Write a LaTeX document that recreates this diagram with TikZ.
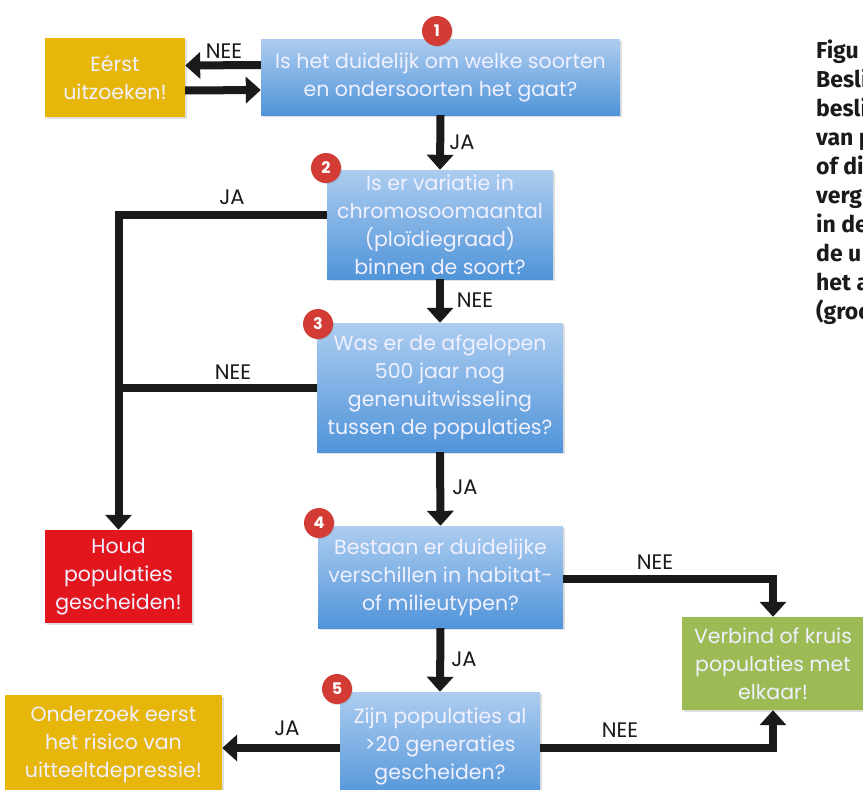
\documentclass[tikz,border=0pt]{standalone}
\usepackage{fontspec}
\setmainfont{Poppins}
\newfontfamily\capfont{Fira Sans}
\usetikzlibrary{arrows.meta,shadows,calc}
\definecolor{bluetop}{HTML}{ADCDF0}
\definecolor{bluebot}{HTML}{5094D9}
\definecolor{yel}{HTML}{E6B60A}
\definecolor{redb}{HTML}{E2161C}
\definecolor{grn}{HTML}{9DBB55}
\definecolor{circ}{HTML}{D33C34}
\definecolor{ink}{HTML}{1A1A1A}
\begin{document}
\begin{tikzpicture}[x=1pt,y=-1pt,
  box/.style={rectangle, inner sep=0pt, align=center, text=white!94!blue,
    font=\fontsize{20.5}{28}\selectfont,
    drop shadow={opacity=0.25,shadow xshift=1.5pt,shadow yshift=-1.5pt}},
  bluebox/.style={box, top color=bluetop, bottom color=bluebot},
  yelbox/.style={box, fill=yel},
  redbox/.style={box, fill=redb},
  grnbox/.style={box, fill=grn},
  num/.style={circle, fill=circ, minimum size=30pt, inner sep=0pt, text=white,
    font=\fontsize{16}{16}\selectfont\bfseries,
    drop shadow={opacity=0.25,shadow xshift=1pt,shadow yshift=-1pt}},
  lbl/.style={font=\fontsize{21}{21}\selectfont, text=ink, inner sep=0pt},
  conn/.style={line width=8pt, draw=ink, -{Triangle[length=15pt,width=26pt]}},
  plain/.style={line width=8pt, draw=ink},
  captxt/.style={font=\capfont\bfseries\fontsize{23}{29}\selectfont, text=ink, inner sep=0pt, anchor=base west}
]
\useasboundingbox (0,0) rectangle (863,790);
\clip (0,0) rectangle (863,790);

% boxes
\node[bluebox, minimum width=359pt, minimum height=76pt] (b1) at (440.5,77) {Is het duidelijk om welke soorten\\en ondersoorten het gaat?};
\node[yelbox, minimum width=140pt, minimum height=79pt] (y1) at (115,77.5) {Eérst\\uitzoeken!};
\node[bluebox, minimum width=226pt, minimum height=109pt] (b2) at (440,224.5) {Is er variatie in\\chromosoomaantal\\(ploïdiegraad)\\binnen de soort?};
\node[bluebox, minimum width=246pt, minimum height=129pt] (b3) at (440,387.5) {Was er de afgelopen\\500 jaar nog\\genenuitwisseling\\tussen de populaties?};
\node[bluebox, minimum width=245pt, minimum height=102pt] (b4) at (440.5,577) {Bestaan er duidelijke\\verschillen in habitat-\\of milieutypen?};
\node[bluebox, minimum width=200pt, minimum height=108pt] (b5) at (440,746) {Zijn populaties al\\>20 generaties\\gescheiden?};
\node[redbox, minimum width=147pt, minimum height=93pt] (r1) at (118.5,576.5) {Houd\\populaties\\gescheiden!};
\node[grnbox, minimum width=182pt, minimum height=93pt] (g1) at (773,663.5) {Verbind of kruis\\populaties met\\elkaar!};
\node[yelbox, minimum width=217pt, minimum height=100pt] (y2) at (113.5,745) {Onderzoek eerst\\het risico van\\uitteeltdepressie!};

% connectors
\draw[conn] ([yshift=12pt]b1.west) -- ([yshift=12pt]y1.east);
\draw[conn] ([yshift=-13pt]y1.east) -- ([yshift=-13pt]b1.west);
\draw[conn] (b1.south) -- (b2.north);
\draw[conn] ([yshift=9.5pt]b2.west) -| (r1.north);
\draw[plain] (b3.west) -- (b3.west -| r1.north);
\draw[conn] (b2.south) -- (b3.north);
\draw[conn] (b3.south) -- (b4.north);
\draw[conn] ([yshift=-2pt]b4.east) -| (g1.north);
\draw[conn] (b4.south) -- (b5.north);
\draw[conn] ([yshift=-2pt]b5.east) -| (g1.south);
\draw[conn] ([yshift=-2pt]b5.west) -- ([yshift=-2pt]b5.west -| y2.east);

% labels
\node[lbl] (l1) at (224,51) {NEE};
\node[lbl] (l2) at (462,142) {JA};
\node[lbl] (l3) at (232,197) {JA};
\node[lbl] (l4) at (475,300) {NEE};
\node[lbl] (l5) at (233,372) {NEE};
\node[lbl] (l6) at (465,487) {JA};
\node[lbl] (l7) at (655,562) {NEE};
\node[lbl] (l8) at (464,659) {JA};
\node[lbl] (l9) at (287,728) {JA};
\node[lbl] (l10) at (620,730) {NEE};

% number circles
\node[num] (n1) at (437,31) {1};
\node[num] (n2) at (326,168) {2};
\node[num] (n3) at (318,324) {3};
\node[num] (n4) at (319,523) {4};
\node[num] (n5) at (337,689) {5};

% caption (cut off at the right edge)
\node[captxt] (c1) at (816,58) {Figu};
\node[captxt] (c2) at (816,87) {Besli};
\node[captxt] (c3) at (816,116) {besli};
\node[captxt] (c4) at (816,145) {van p};
\node[captxt] (c5) at (816,174) {of di};
\node[captxt] (c6) at (816,203) {verg};
\node[captxt] (c7) at (816,232) {in de};
\node[captxt] (c8) at (816,261) {de u};
\node[captxt] (c9) at (816,290) {het a};
\node[captxt] (c10) at (816,319) {(groo};
\end{tikzpicture}
\end{document}
